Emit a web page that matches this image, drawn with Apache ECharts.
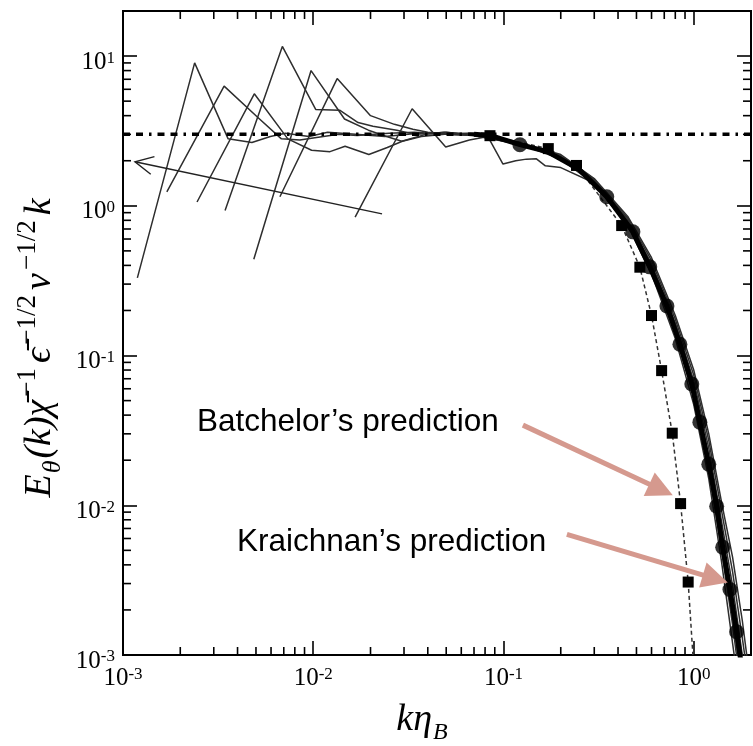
<!DOCTYPE html>
<html>
<head>
<meta charset="utf-8">
<title>Scalar spectrum</title>
<script src="https://cdn.jsdelivr.net/npm/echarts@6.0.0/dist/echarts.min.js"></script>
<style>
  html, body { margin: 0; padding: 0; background: #fff; }
  #chart { width: 753px; height: 746px; }
</style>
</head>
<body>
<div id="chart"></div>
<script>
// Axis ranges
const X_MIN = 0.001, X_MAX = 2;
const Y_MIN = 0.001, Y_MAX = 20;

// Minor log ticks: multipliers within each decade
const minorMultipliers = [2, 3, 4, 5, 6, 7, 8, 9];
const xDecades = [0.001, 0.01, 0.1];
const yDecades = [0.001, 0.01, 0.1, 1];

// Batchelor plateau (k^-1 range) reference level
const plateauLine = [[0.001, 3.0], [2.0, 3.0]];

// DNS spectra [k*eta_B, compensated spectrum]
const dnsA = [[0.00119,0.33],[0.00238,9.0],[0.00357,2.8],[0.00476,2.65],[0.00595,2.9],[0.00714,3.05],[0.0095,2.9],[0.0119,3.1],[0.0167,3.0],[0.0238,2.9],[0.0357,3.05],[0.05,3.0],[0.07,2.95],
  [0.12,2.6],[0.2,2.05],[0.3,1.40],[0.45,0.74],[0.6,0.35],[0.8,0.13],[1.0,0.047],[1.2,0.015],[1.4,0.0042],[1.6,0.0012],[1.8,0.0004],[2.0,0.00015]];
const dnsB = [[0.0017,1.24],[0.0034,6.3],[0.0051,3.9],[0.0068,2.8],[0.0085,2.75],[0.0102,2.85],[0.0136,3.0],[0.017,2.95],[0.025,3.05],[0.034,3.1],[0.05,3.0],[0.07,2.95],
  [0.12,2.62],[0.2,2.10],[0.3,1.45],[0.45,0.77],[0.6,0.37],[0.8,0.145],[1.0,0.056],[1.2,0.018],[1.4,0.0055],[1.6,0.0018],[1.8,0.0006],[2.0,0.0002]];
const dnsC = [[0.00245,1.06],[0.0049,5.6],[0.00735,2.8],[0.0098,2.35],[0.01225,2.3],[0.0147,2.5],[0.0196,2.2],[0.0245,2.45],[0.0294,2.7],[0.037,2.9],[0.049,3.0],[0.07,3.05],
  [0.12,2.6],[0.2,2.12],[0.3,1.47],[0.45,0.79],[0.6,0.39],[0.8,0.155],[1.0,0.062],[1.2,0.021],[1.4,0.0066],[1.6,0.0023],[1.8,0.0008],[2.0,0.0003]];
const dnsD = [[0.00344,0.93],[0.00688,11.6],[0.0103,4.4],[0.01376,4.35],[0.0172,3.6],[0.0206,3.4],[0.0275,3.2],[0.0344,3.0],[0.05,3.1],[0.07,2.95],
  [0.12,2.58],[0.2,2.10],[0.3,1.48],[0.45,0.81],[0.6,0.41],[0.8,0.165],[1.0,0.068],[1.2,0.024],[1.4,0.0078],[1.6,0.0029],[1.8,0.0010],[2.0,0.0004]];
const dnsE = [[0.00487,0.44],[0.00974,8.0],[0.0146,3.8],[0.0195,3.2],[0.0243,2.9],[0.0292,2.7],[0.039,3.0],[0.0487,3.1],[0.07,3.0],
  [0.12,2.62],[0.2,2.15],[0.3,1.50],[0.45,0.83],[0.6,0.43],[0.8,0.175],[1.0,0.074],[1.2,0.027],[1.4,0.0092],[1.6,0.0036],[1.8,0.0013],[2.0,0.0005]];
const dnsF = [[0.00668,1.15],[0.01336,7.07],[0.02,4.0],[0.0267,3.5],[0.0334,3.25],[0.04,3.1],[0.0534,3.0],[0.0668,3.05],[0.085,2.95],
  [0.12,2.65],[0.2,2.2],[0.3,1.52],[0.45,0.85],[0.6,0.45],[0.8,0.185],[1.0,0.080],[1.2,0.030],[1.4,0.0105],[1.6,0.0045],[1.8,0.0017],[2.0,0.0006]];
const dnsG = [[0.0166,0.84],[0.0331,4.45],[0.0497,2.47],[0.0662,2.75],[0.0828,2.9],[0.0994,1.9],[0.116,2.0],[0.132,2.05],[0.149,2.06],[0.166,1.85],
  [0.2,1.8],[0.3,1.42],[0.45,0.76],[0.6,0.36],[0.8,0.14],[1.0,0.053],[1.2,0.017],[1.4,0.005],[1.6,0.0016],[1.8,0.0005],[2.0,0.0002]];
const dnsSpectra = [dnsA, dnsB, dnsC, dnsD, dnsE, dnsF, dnsG];

// Batchelor model: square markers, curve runs on to the bottom axis
const batchelorMarks = [[0.0849,2.94],[0.172,2.41],[0.242,1.86],[0.418,0.738],[0.521,0.389],[0.600,0.185],[0.678,0.0793],[0.771,0.0303],[0.853,0.01026],[0.935,0.00307]];
const batchelorTail = [[0.99,0.001]];

// Kraichnan model: thick curve and circle markers
const kraichnanCurve = [[0.07,3.0],[0.085,2.95],[0.122,2.56],[0.17,2.3],[0.25,1.75],[0.349,1.15],[0.479,0.67],[0.587,0.391],[0.723,0.214],[0.846,0.119],[0.977,0.0645],[1.077,0.0359],[1.2,0.0188],[1.32,0.00984],[1.42,0.00524],[1.55,0.00274],[1.68,0.00143],[1.76,0.00095]];
const kraichnanMarks = [[0.122,2.56],[0.349,1.15],[0.479,0.67],[0.587,0.391],[0.723,0.214],[0.846,0.119],[0.977,0.0645],[1.077,0.0359],[1.2,0.0188],[1.32,0.00984],[1.42,0.00524],[1.55,0.00274],[1.68,0.00143]];

// Arrows: [tailK, tailE, tipK, tipE]
const trendArrow = [[0.023, 0.884, 0.001156, 1.97]];
const batchelorArrow = [[0.1265, 0.0343, 0.776, 0.01166]];
const kraichnanArrow = [[0.2154, 0.0064, 1.51, 0.00305]];

const SERIF = '"Liberation Serif", "DejaVu Serif", serif';
const SANS = '"Liberation Sans", Arial, sans-serif';

function powerLabel(v) {
  const lg = Math.log10(v);
  const e = Math.round(lg);
  if (Math.abs(lg - e) > 1e-6) return '';
  return '{b|10}{s|' + e + '}';
}
const labelRich = {
  b: { fontFamily: SERIF, fontSize: 25, color: '#000', lineHeight: 25, verticalAlign: 'bottom' },
  s: { fontFamily: SERIF, fontSize: 17, color: '#000', lineHeight: 17, verticalAlign: 'top' }
};

const MAJOR_LEN = 14, MINOR_LEN = 8, TICK_W = 1.6;

function logAxis(kind, pos, showLabels, extra) {
  const isX = kind === 'x';
  const ax = {
    type: 'log', logBase: 10,
    min: isX ? X_MIN : Y_MIN, max: isX ? X_MAX : Y_MAX,
    position: pos,
    axisLine: { show: true, onZero: false, lineStyle: { color: '#000', width: 2 } },
    axisTick: { show: true, inside: true, length: MAJOR_LEN, lineStyle: { color: '#000', width: TICK_W } },
    minorTick: { show: false },
    splitLine: { show: false },
    minorSplitLine: { show: false },
    axisLabel: showLabels ? {
      show: true, formatter: powerLabel, rich: labelRich, color: '#000',
      margin: isX ? 11 : 8, showMinLabel: true, showMaxLabel: true,
      padding: isX ? 0 : [12, 0, 0, 0]
    } : { show: false }
  };
  return Object.assign(ax, extra || {});
}

function minorTickSeries(axisKind, values) {
  return {
    type: 'custom', silent: true, z: 6,
    data: values,
    renderItem: function (params, api) {
      const v = api.value(axisKind === 'x' ? 0 : 1);
      const style = { stroke: '#000', lineWidth: TICK_W };
      if (axisKind === 'x') {
        const b = api.coord([v, Y_MIN]), t = api.coord([v, Y_MAX]);
        return { type: 'group', children: [
          { type: 'line', shape: { x1: b[0], y1: b[1], x2: b[0], y2: b[1] - MINOR_LEN }, style: style },
          { type: 'line', shape: { x1: t[0], y1: t[1], x2: t[0], y2: t[1] + MINOR_LEN }, style: style }
        ] };
      }
      const l = api.coord([X_MIN, v]), r = api.coord([X_MAX, v]);
      return { type: 'group', children: [
        { type: 'line', shape: { x1: l[0], y1: l[1], x2: l[0] + MINOR_LEN, y2: l[1] }, style: style },
        { type: 'line', shape: { x1: r[0], y1: r[1], x2: r[0] - MINOR_LEN, y2: r[1] }, style: style }
      ] };
    }
  };
}

function arrowSeries(data, color, width, headLen, headHalf, open) {
  return {
    type: 'custom', silent: true, z: 10,
    data: data,
    renderItem: function (params, api) {
      const p1 = api.coord([api.value(0), api.value(1)]);
      const p2 = api.coord([api.value(2), api.value(3)]);
      const dx = p2[0] - p1[0], dy = p2[1] - p1[1];
      const len = Math.sqrt(dx * dx + dy * dy);
      const ux = dx / len, uy = dy / len, nx = -uy, ny = ux;
      const bx = p2[0] - ux * headLen, by = p2[1] - uy * headLen;
      const w1 = [bx + nx * headHalf, by + ny * headHalf];
      const w2 = [bx - nx * headHalf, by - ny * headHalf];
      if (open) {
        return { type: 'group', children: [
          { type: 'line', shape: { x1: p1[0], y1: p1[1], x2: p2[0], y2: p2[1] }, style: { stroke: color, lineWidth: width } },
          { type: 'polyline', shape: { points: [w1, p2, w2] }, style: { stroke: color, lineWidth: width, fill: null } }
        ] };
      }
      return { type: 'group', children: [
        { type: 'line', shape: { x1: p1[0], y1: p1[1], x2: bx + ux * 2, y2: by + uy * 2 }, style: { stroke: color, lineWidth: width } },
        { type: 'polygon', shape: { points: [p2, w1, w2] }, style: { fill: color } }
      ] };
    }
  };
}

const minorX = [];
xDecades.forEach(d => minorMultipliers.forEach(m => minorX.push([m * d, Y_MIN])));
const minorY = [];
yDecades.forEach(d => minorMultipliers.forEach(m => minorY.push([X_MIN, m * d])));

const series = [];
dnsSpectra.forEach(function (s) {
  series.push({
    type: 'line', data: s, showSymbol: false, silent: true, z: 2,
    lineStyle: { color: '#2e2e2e', width: 1.5 }
  });
});
series.push({
  type: 'line', data: batchelorMarks.concat(batchelorTail), z: 4,
  symbol: function (value, params) { return params.dataIndex < batchelorMarks.length ? 'rect' : 'none'; },
  symbolSize: 11, showSymbol: true,
  itemStyle: { color: '#000' },
  lineStyle: { color: '#333', width: 1.5, type: [4, 3] }
});
series.push({
  type: 'line', data: kraichnanCurve, showSymbol: false, z: 5,
  lineStyle: { color: '#000', width: 5 }
});
series.push({
  type: 'scatter', data: kraichnanMarks, z: 5,
  symbol: 'circle', symbolSize: 15, itemStyle: { color: '#000' }
});
series.push({
  type: 'line', data: plateauLine, showSymbol: false, z: 3,
  lineStyle: { color: '#000', width: 3.5, type: [7, 6, 7, 6, 2.5, 6] }
});
series.push(arrowSeries(trendArrow, '#222', 1.4, 18, 9, true));
series.push(arrowSeries(batchelorArrow, '#d5998e', 5, 26, 13, false));
series.push(arrowSeries(kraichnanArrow, '#d5998e', 5, 26, 13, false));
series.push(minorTickSeries('x', minorX));
series.push(minorTickSeries('y', minorY));

const supPad = [0, 5, 0, 3];

const option = {
  animation: false,
  backgroundColor: '#fff',
  textStyle: { fontFamily: SERIF },
  grid: { left: 123, right: 2, top: 11, bottom: 91, containLabel: false, outerBoundsMode: 'none',
          show: true, borderColor: '#000', borderWidth: 2, backgroundColor: 'transparent' },
  xAxis: [
    logAxis('x', 'bottom', true, {
      name: '{i|kη}{sub|B}', nameLocation: 'middle', nameGap: 46,
      nameTextStyle: {
        padding: [0, 30, 0, 0],
        rich: {
          i: { fontFamily: SERIF, fontStyle: 'italic', fontSize: 38, color: '#000', lineHeight: 44, verticalAlign: 'top' },
          sub: { fontFamily: SERIF, fontStyle: 'italic', fontSize: 24, color: '#000', lineHeight: 24, verticalAlign: 'bottom', padding: [0, 0, 0, 1] }
        }
      }
    }),
    logAxis('x', 'top', false)
  ],
  yAxis: [
    logAxis('y', 'left', true),
    logAxis('y', 'right', false)
  ],
  series: series,
  graphic: [
    {
      type: 'text', x: 40, y: 348, rotation: Math.PI / 2, silent: true,
      style: {
        text: '{m|E}{sb|θ}{m|(k)χ̄}{p|−1}{m|ϵ̄}{p|−1/2}{m|ν}{p|−1/2}{m|k}',
        align: 'center', verticalAlign: 'middle',
        textAlign: 'center', textVerticalAlign: 'middle',
        rich: {
          m: { fontFamily: SERIF, fontStyle: 'italic', fontSize: 38, color: '#000', lineHeight: 52, verticalAlign: 'middle' },
          p: { fontFamily: SERIF, fontSize: 27, color: '#000', lineHeight: 27, verticalAlign: 'top', padding: supPad },
          sb: { fontFamily: SERIF, fontStyle: 'italic', fontSize: 26, color: '#000', lineHeight: 26, verticalAlign: 'bottom', padding: [0, 2, 0, 1] }
        }
      }
    },
    {
      type: 'text', x: 197, y: 422, silent: true,
      style: { text: 'Batchelor’s prediction', font: '31.5px ' + SANS, fill: '#000',
               verticalAlign: 'middle', textVerticalAlign: 'middle' }
    },
    {
      type: 'text', x: 237, y: 542, silent: true,
      style: { text: 'Kraichnan’s prediction', font: '31.5px ' + SANS, fill: '#000',
               verticalAlign: 'middle', textVerticalAlign: 'middle' }
    }
  ]
};

const chart = echarts.init(document.getElementById('chart'), null, { renderer: 'canvas' });
chart.setOption(option);
</script>
</body>
</html>
